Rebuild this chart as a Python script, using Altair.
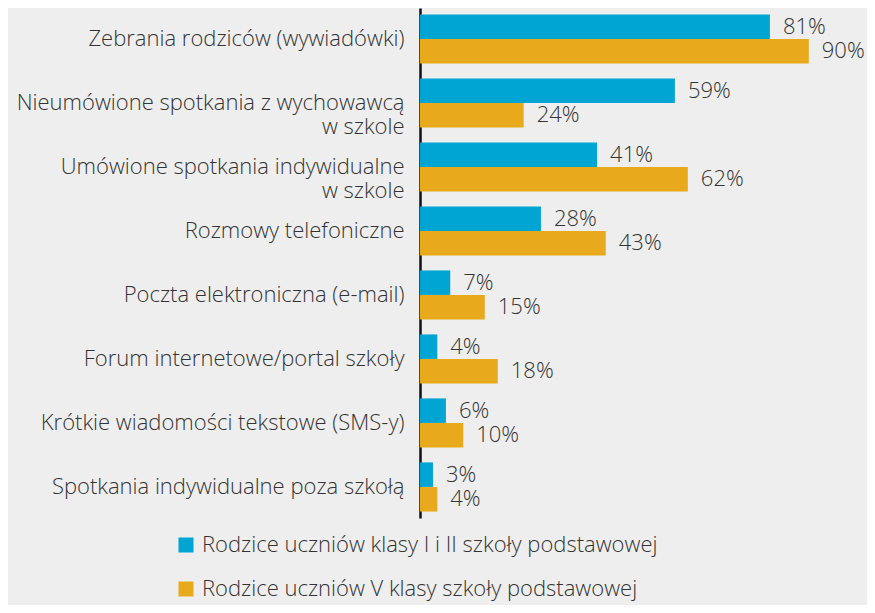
import altair as alt
import pandas as pd

categories = [
    "Zebrania rodziców (wywiadówki)",
    "Nieumówione spotkania z wychowawcą|w szkole",
    "Umówione spotkania indywidualne|w szkole",
    "Rozmowy telefoniczne",
    "Poczta elektroniczna (e-mail)",
    "Forum internetowe/portal szkoły",
    "Krótkie wiadomości tekstowe (SMS-y)",
    "Spotkania indywidualne poza szkołą",
]
series = [
    "Rodzice uczniów klasy I i II szkoły podstawowej",
    "Rodzice uczniów V klasy szkoły podstawowej",
]
values_1_2 = [81, 59, 41, 28, 7, 4, 6, 3]
values_5 = [90, 24, 62, 43, 15, 18, 10, 4]
colors = ["#00a5d4", "#e8aa1c"]

rows = []
for c, a, b in zip(categories, values_1_2, values_5):
    rows.append({"cat": c, "series": series[0], "value": a, "label": f"{a}%"})
    rows.append({"cat": c, "series": series[1], "value": b, "label": f"{b}%"})
df = pd.DataFrame(rows)

FONT = "Open Sans"
FS = 22

y_enc = alt.Y(
    "cat:N",
    sort=categories,
    title=None,
    scale=alt.Scale(paddingInner=0.23, paddingOuter=0.1),
    axis=alt.Axis(
        labelExpr="split(datum.value, '|')",
        labelFontSize=FS,
        labelFont=FONT,
        labelFontWeight=300,
        labelColor="#333333",
        labelLineHeight=24,
        labelPadding=16,
        labelLimit=500,
        ticks=False,
        domainColor="#111111",
        domainWidth=2.5,
        grid=False,
    ),
)
yoff = alt.YOffset("series:N", sort=series)

x_enc = alt.X(
    "value:Q",
    scale=alt.Scale(domain=[0, 100]),
    axis=None,
)

bars = alt.Chart(df).mark_bar(size=24.5).encode(
    y=y_enc,
    yOffset=yoff,
    x=x_enc,
    color=alt.Color(
        "series:N",
        sort=series,
        scale=alt.Scale(domain=series, range=colors),
        legend=alt.Legend(
            title=None,
            orient="none",
            legendX=-245,
            legendY=526,
            symbolType="square",
            symbolSize=225,
            symbolStrokeWidth=0,
            labelFontSize=FS,
            labelFont=FONT,
            labelFontWeight=300,
            labelColor="#333333",
            rowPadding=22,
            labelLimit=600,
            labelOffset=5,
        ),
    ),
)

labels = alt.Chart(df).mark_text(
    align="left", baseline="middle", dx=13, fontSize=FS, font=FONT,
    fontWeight=300, color="#333333",
).encode(
    y=alt.Y("cat:N", sort=categories),
    yOffset=yoff,
    x=x_enc,
    text="label:N",
)

chart = alt.layer(bars, labels).properties(
    width=432,
    height=510,
    background="#eeeeee",
    padding={"left": 412, "top": 0, "right": 15, "bottom": 87},
    autosize=alt.AutoSizeParams(type="none"),
).configure_view(stroke=None)

chart.save("out.html", embed_options={"renderer": "svg", "actions": False})
